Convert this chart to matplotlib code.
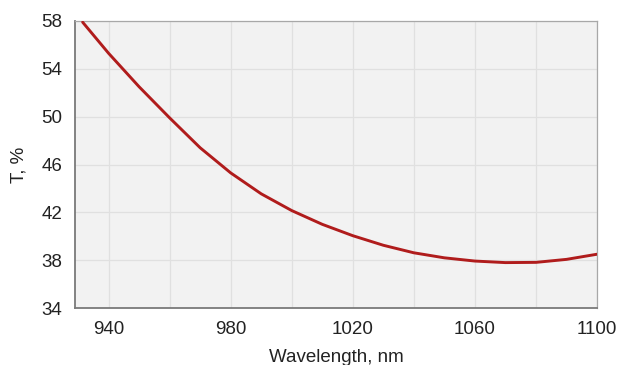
import matplotlib
matplotlib.use("Agg")
import matplotlib.pyplot as plt
import numpy as np

wavelength = [931.5, 940, 950, 960, 970, 980, 990, 1000, 1010, 1020,
              1030, 1040, 1050, 1060, 1070, 1080, 1090, 1100]
transmission = [57.9, 55.3, 52.5, 49.9, 47.4, 45.3, 43.55, 42.15, 41.0, 40.05,
                39.25, 38.62, 38.2, 37.93, 37.8, 37.82, 38.07, 38.5]
xticks = [940, 980, 1020, 1060, 1100]
yticks = [34, 38, 42, 46, 50, 54, 58]

plt.rcParams['font.family'] = ['Liberation Sans', 'DejaVu Sans']

fig = plt.figure(figsize=(6.22, 3.65), dpi=100)
ax = fig.add_axes([0.1206, 0.156, 0.8392, 0.7865])
ax.set_facecolor('#f2f2f2')

ax.plot(wavelength, transmission, color='#b01c1c', lw=2.1,
        solid_capstyle='round', solid_joinstyle='round', zorder=3)

ax.set_xlim(929, 1100)
ax.set_ylim(34, 58)
ax.set_xticks(xticks)
ax.set_yticks(yticks)
ax.set_xticks(np.arange(940, 1101, 20), minor=True)
ax.grid(True, which='both', axis='x', color='#e0e0e0', lw=0.9)
ax.grid(True, which='major', axis='y', color='#e0e0e0', lw=0.9)
ax.set_axisbelow(True)

ax.tick_params(which='both', length=0, labelsize=13.5, colors='#222222', pad=9)
for s in ['left', 'bottom']:
    ax.spines[s].set_color('#7a7a7a')
    ax.spines[s].set_linewidth(1.3)
for s in ['top', 'right']:
    ax.spines[s].set_color('#a8a8a8')
    ax.spines[s].set_linewidth(0.9)

ax.set_xlabel('Wavelength, nm', fontsize=13.5, color='#222222', labelpad=8)
ax.set_ylabel('T, %', fontsize=13.5, color='#222222', labelpad=10)

fig.savefig('out.png', dpi=100)
